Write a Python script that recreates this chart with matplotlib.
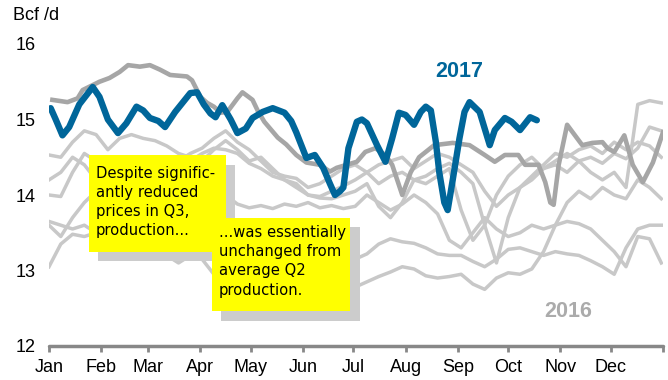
import numpy as np
import matplotlib
matplotlib.use("Agg")
import matplotlib.pyplot as plt
from matplotlib.patches import Rectangle

plt.rcParams['font.family'] = ['Liberation Sans', 'DejaVu Sans']

# month starts (day of year) and labels
month_days = [0, 31, 59, 90, 120, 151, 181, 212, 243, 273, 304, 334, 365]
month_labels = ['Jan', 'Feb', 'Mar', 'Apr', 'May', 'Jun', 'Jul', 'Aug',
                'Sep', 'Oct', 'Nov', 'Dec', '']

# 2017 daily production, Bcf/d
days_2017 = [1, 4, 8, 12, 18, 26, 30, 35, 41, 46, 52, 56, 60, 65, 69, 75, 84, 88,
             92, 96, 99, 103, 108, 112, 117, 121, 127, 133, 140, 144, 147, 153,
             158, 163, 167, 170, 173, 175, 178, 183, 186, 189, 195, 200, 204, 208,
             212, 217, 221, 224, 227, 230, 232, 235, 237, 240, 244, 247, 250, 256,
             262, 265, 271, 275, 280, 286, 290]
prod_2017 = [15.15, 15.0, 14.79, 14.9, 15.2, 15.43, 15.3, 15.0, 14.82, 14.95,
             15.17, 15.12, 15.02, 14.98, 14.9, 15.1, 15.35, 15.36, 15.2, 15.08,
             15.03, 15.19, 15.0, 14.82, 14.88, 15.02, 15.1, 15.15, 15.09, 14.98,
             14.83, 14.49, 14.53, 14.36, 14.15, 14.0, 14.05, 14.1, 14.62, 14.97,
             15.0, 14.95, 14.66, 14.44, 14.75, 15.09, 15.06, 14.93, 15.1, 15.17,
             15.12, 14.7, 14.3, 13.9, 13.8, 14.2, 14.75, 15.1, 15.23, 15.1,
             14.66, 14.86, 15.02, 14.97, 14.86, 15.03, 14.99]

# 2016
days_2016 = [2, 11, 17, 20, 30, 36, 42, 47, 54, 60, 66, 72, 82, 85, 90, 94, 98,
             102, 106, 112, 115, 121, 124, 128, 136, 141, 147, 153, 161, 167, 171,
             177, 183, 188, 194, 200, 204, 210, 215, 220, 229, 240, 250, 259, 265,
             271, 279, 283, 291, 295, 298, 300, 303, 308, 317, 323, 329, 332, 336,
             342, 347, 353, 359, 365]
prod_2016 = [15.26, 15.23, 15.28, 15.39, 15.5, 15.55, 15.63, 15.72, 15.7, 15.72,
             15.66, 15.59, 15.57, 15.52, 15.3, 15.22, 15.17, 15.09, 15.1, 15.28,
             15.36, 15.26, 15.12, 14.97, 14.76, 14.67, 14.53, 14.43, 14.4, 14.31,
             14.36, 14.4, 14.44, 14.57, 14.62, 14.53, 14.4, 14.0, 14.3, 14.5,
             14.66, 14.69, 14.66, 14.53, 14.44, 14.53, 14.53, 14.4, 14.4, 14.17,
             13.9, 13.87, 14.4, 14.93, 14.66, 14.69, 14.7, 14.62, 14.57, 14.79,
             14.4, 14.17, 14.43, 14.83]

# earlier years, weekly
days_weekly = np.arange(0, 365, 7)
prod_2015 = [14.53, 14.5, 14.7, 14.85, 14.8, 14.6, 14.75, 14.8, 14.75, 14.72,
             14.65, 14.55, 14.5, 14.45, 14.6, 14.72, 14.6, 14.45, 14.5, 14.35,
             14.2, 14.1, 14.0, 13.98, 14.05, 14.12, 14.2, 14.3, 14.4, 14.45,
             14.5, 14.35, 14.45, 14.55, 14.5, 14.4, 14.3, 14.05, 13.85, 14.0,
             14.1, 14.2, 14.35, 14.4, 14.3, 14.45, 14.5, 14.42, 14.55, 14.48,
             14.62, 14.9, 14.85]
prod_2014 = [14.0, 13.98, 14.3, 14.55, 14.45, 14.2, 14.0, 13.9, 13.95, 14.1,
             14.25, 14.35, 14.45, 14.55, 14.62, 14.6, 14.55, 14.42, 14.35, 14.25,
             14.2, 14.15, 14.0, 13.96, 13.95, 14.0, 14.05, 14.15, 13.85, 13.7,
             13.9, 14.2, 14.15, 14.25, 14.35, 13.8, 13.4, 13.6, 14.0, 14.25,
             14.4, 14.5, 14.35, 14.45, 14.55, 14.45, 14.3, 14.2, 14.3, 14.1,
             15.2, 15.25, 15.22]
prod_2013 = [13.6, 13.45, 13.7, 13.9, 14.05, 13.95, 13.8, 13.7, 13.75, 13.85,
             13.9, 13.8, 13.75, 13.85, 13.95, 14.0, 13.88, 13.83, 13.86, 13.82,
             13.88, 13.85, 13.9, 13.83, 13.86, 13.82, 13.85, 14.0, 13.9, 13.8,
             13.88, 14.0, 13.9, 13.75, 13.4, 13.3, 13.5, 13.7, 13.55, 13.45,
             13.5, 13.6, 13.55, 13.6, 13.65, 13.62, 13.55, 13.4, 13.25, 13.05,
             13.45, 13.42, 13.1]
prod_2012 = [13.05, 13.35, 13.48, 13.45, 13.5, 13.4, 13.3, 13.35, 13.45, 13.5,
             13.4, 13.35, 13.3, 13.25, 13.2, 13.1, 13.05, 13.0, 12.95, 12.9,
             13.0, 13.05, 13.1, 13.1, 13.05, 13.08, 13.15, 13.22, 13.35, 13.42,
             13.38, 13.36, 13.3, 13.22, 13.2, 13.2, 13.12, 13.05, 13.15, 13.28,
             13.3, 13.25, 13.2, 13.25, 13.22, 13.2, 13.13, 13.05, 12.95, 13.3,
             13.55, 13.6, 13.6]
prod_2011 = [13.65, 13.6, 13.55, 13.6, 13.5, 13.45, 13.4, 13.3, 13.35, 13.25,
             13.2, 13.1, 13.2, 13.15, 12.95, 12.9, 12.85, 12.82, 12.78, 12.8,
             12.75, 12.78, 12.8, 12.78, 12.82, 12.8, 12.78, 12.85, 12.92, 12.98,
             13.05, 13.02, 12.93, 12.9, 12.92, 12.95, 12.82, 12.75, 12.9, 12.97,
             12.95, 13.02, 13.25, 13.6, 13.9, 14.05, 13.95, 14.1, 14.0, 13.95,
             14.2, 14.1, 13.95]
prod_2010 = [14.2, 14.3, 14.5, 14.4, 14.2, 14.1, 14.2, 14.3, 14.35, 14.4,
             14.5, 14.45, 14.55, 14.62, 14.75, 14.85, 14.7, 14.6, 14.45, 14.3,
             14.25, 14.22, 14.1, 14.15, 14.25, 14.35, 14.4, 14.3, 14.15, 14.25,
             14.3, 14.2, 14.25, 14.35, 14.42, 14.3, 14.15, 13.6, 13.1, 13.7,
             14.1, 14.25, 14.4, 14.55, 14.5, 14.6, 14.65, 14.55, 14.7, 14.6,
             14.7, 14.65, 14.5]

blue = '#00669a'
dark_grey = '#a6a6a6'
light_grey = '#c8c8c8'

fig = plt.figure(figsize=(6.68, 3.80), dpi=100)
ax = fig.add_axes([49 / 668, 34 / 380, 614 / 668, 302 / 380])

for series in [prod_2010, prod_2011, prod_2012, prod_2013, prod_2014, prod_2015]:
    ax.plot(days_weekly, series, color=light_grey, lw=2.5,
            solid_joinstyle='round', zorder=2)
ax.plot(days_2016, prod_2016, color=dark_grey, lw=3.3,
        solid_joinstyle='round', zorder=3)
ax.plot(days_2017, prod_2017, color=blue, lw=4.6,
        solid_joinstyle='round', solid_capstyle='round', zorder=6)

ax.text(244, 15.64, '2017', color=blue, fontsize=15.5, fontweight='bold',
        ha='center', va='center')
ax.text(308.5, 12.46, '2016', color='#ababab', fontsize=15.5, fontweight='bold',
        ha='center', va='center')

# yellow callouts with drop shadows
def callout(x0, x1, y0, y1, lines, tx, ty):
    ax.add_patch(Rectangle((x0 + 5.6, y0 - 0.13), x1 - x0, y1 - y0,
                           facecolor='#cccccc', edgecolor='none', zorder=7))
    ax.add_patch(Rectangle((x0, y0), x1 - x0, y1 - y0,
                           facecolor='#ffff00', edgecolor='none', zorder=8))
    for i, s in enumerate(lines):
        ax.text(tx, ty - i * 0.253, s, fontsize=10.6, family='DejaVu Sans',
                color='black', ha='left', va='center', zorder=9)

callout(23.8, 105.2, 13.25, 14.53,
        ['Despite signific-', 'antly reduced', 'prices in Q3,', 'production...'],
        28.0, 14.29)
callout(96.9, 179.0, 12.46, 13.70,
        ['...was essentially', 'unchanged from', 'average Q2', 'production.'],
        101.0, 13.50)

ax.set_xlim(0, 365)
ax.set_ylim(12, 16)
ax.set_xticks(month_days)
ax.set_xticklabels(month_labels, fontsize=13)
ax.set_yticks([12, 13, 14, 15, 16])
ax.set_yticklabels(['12', '13', '14', '15', '16'], fontsize=13)
ax.tick_params(axis='y', length=0, pad=9.5)
ax.tick_params(axis='x', direction='out', length=4, width=2,
               color='#888888', pad=5)
for side in ['left', 'right', 'top']:
    ax.spines[side].set_visible(False)
ax.spines['bottom'].set_color('#888888')
ax.spines['bottom'].set_linewidth(2.5)
ax.spines['bottom'].set_capstyle('round')

fig.text(13 / 668, 1 - 16 / 380, 'Bcf /d', fontsize=13, ha='left', va='center')

fig.savefig('out.png', dpi=100)
